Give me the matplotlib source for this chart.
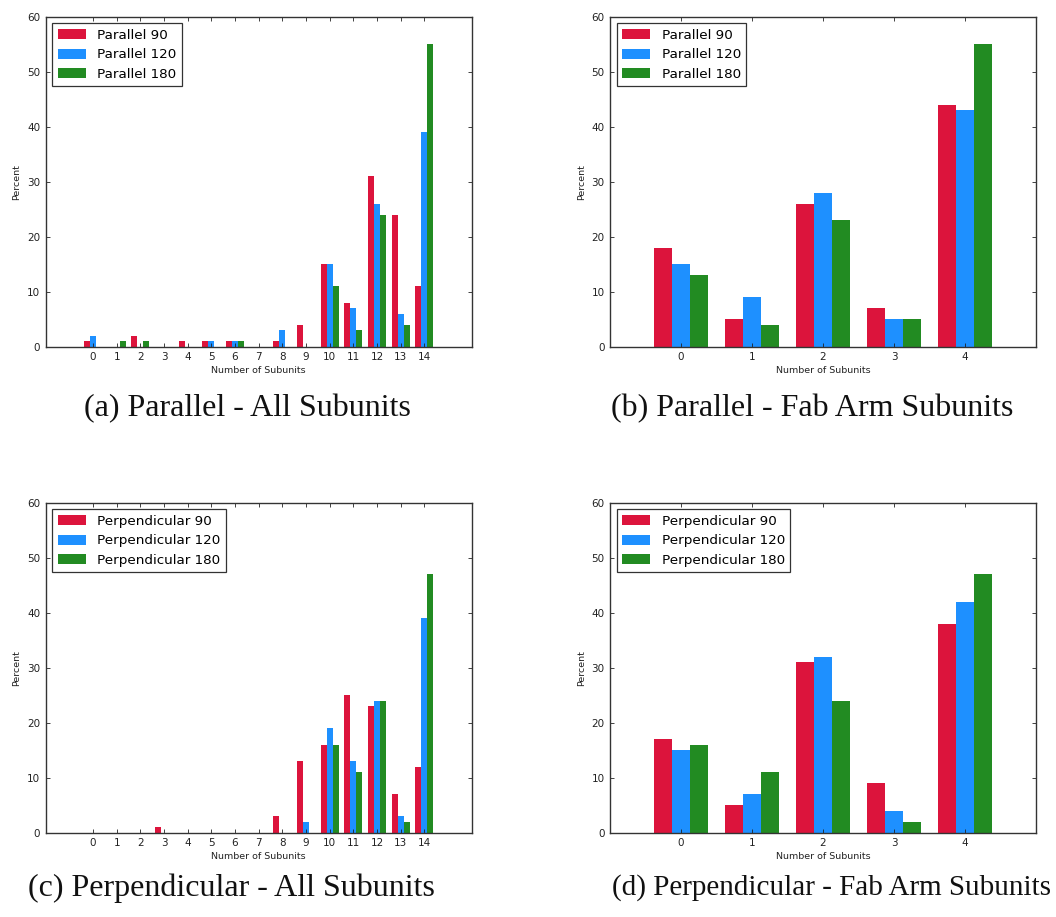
import numpy as np
import matplotlib
matplotlib.use("Agg")
import matplotlib.pyplot as plt

# colours used for the three angles
colors = ["crimson", "dodgerblue", "forestgreen"]

all_subunits = list(range(15))
fab_subunits = list(range(5))

par_all_90 = [1, 0, 2, 0, 1, 1, 1, 0, 1, 4, 15, 8, 31, 24, 11]
par_all_120 = [2, 0, 0, 0, 0, 1, 1, 0, 3, 0, 15, 7, 26, 6, 39]
par_all_180 = [0, 1, 1, 0, 0, 0, 1, 0, 0, 0, 11, 3, 24, 4, 55]

par_fab_90 = [18, 5, 26, 7, 44]
par_fab_120 = [15, 9, 28, 5, 43]
par_fab_180 = [13, 4, 23, 5, 55]

perp_all_90 = [0, 0, 0, 1, 0, 0, 0, 0, 3, 13, 16, 25, 23, 7, 12]
perp_all_120 = [0, 0, 0, 0, 0, 0, 0, 0, 0, 2, 19, 13, 24, 3, 39]
perp_all_180 = [0, 0, 0, 0, 0, 0, 0, 0, 0, 0, 16, 11, 24, 2, 47]

perp_fab_90 = [17, 5, 31, 9, 38]
perp_fab_120 = [15, 7, 32, 4, 42]
perp_fab_180 = [16, 11, 24, 2, 47]

par_labels = ["Parallel 90", "Parallel 120", "Parallel 180"]
perp_labels = ["Perpendicular 90", "Perpendicular 120", "Perpendicular 180"]

captions = ["(a) Parallel - All Subunits", "(b) Parallel - Fab Arm Subunits",
            "(c) Perpendicular - All Subunits", "(d) Perpendicular - Fab Arm Subunits"]


def draw_panel(ax, cats, series, labels):
    ind = np.array(cats)
    width = 0.25
    for i, vals in enumerate(series):
        ax.bar(ind + (i - 1) * width, vals, width, color=colors[i],
               linewidth=0, label=labels[i])
    # the wide charts get two empty units each side, the small ones one
    margin = 2 if len(ind) > 10 else 1
    ax.set_xlim(ind[0] - margin, ind[-1] + margin)
    ax.set_ylim(0, 60)
    ax.set_xticks(ind)
    ax.set_yticks(range(0, 61, 10))
    ax.tick_params(direction="in", top=True, right=True, length=3,
                   width=0.6, labelsize=7.5, colors="#222222", pad=4)
    for s in ax.spines.values():
        s.set_color("#333333")
        s.set_linewidth(1.0)
    ax.set_ylabel("Percent", fontsize=6.8, color="#222222", labelpad=4)
    ax.set_xlabel("Number of Subunits", fontsize=6.8, color="#222222", labelpad=3)
    leg = ax.legend(loc="upper left", fontsize=9.7, fancybox=False,
                    framealpha=1, borderpad=0.4, labelspacing=0.48,
                    handlelength=2.1, handleheight=0.75, handletextpad=0.84,
                    borderaxespad=0.5)
    leg.get_frame().set_edgecolor("#333333")
    leg.get_frame().set_linewidth(0.9)


fig = plt.figure(figsize=(10.56, 9.17), dpi=100)

W = 426 / 1056
H = 330 / 917
ax_a = fig.add_axes([45.7 / 1056, 1 - 346.7 / 917, W, H])
ax_b = fig.add_axes([610 / 1056, 1 - 346.7 / 917, W, H])
ax_c = fig.add_axes([45.7 / 1056, 1 - 832.7 / 917, W, H])
ax_d = fig.add_axes([610 / 1056, 1 - 832.7 / 917, W, H])

draw_panel(ax_a, all_subunits, [par_all_90, par_all_120, par_all_180], par_labels)
draw_panel(ax_b, fab_subunits, [par_fab_90, par_fab_120, par_fab_180], par_labels)
draw_panel(ax_c, all_subunits, [perp_all_90, perp_all_120, perp_all_180], perp_labels)
draw_panel(ax_d, fab_subunits, [perp_fab_90, perp_fab_120, perp_fab_180], perp_labels)

cap_font = dict(family="Liberation Serif", color="#111111",
                ha="center", va="center")
fig.text(247 / 1056, 1 - 409 / 917, captions[0], fontsize=23, **cap_font)
fig.text(812 / 1056, 1 - 409 / 917, captions[1], fontsize=23, **cap_font)
fig.text(231 / 1056, 1 - 888 / 917, captions[2], fontsize=23, **cap_font)
fig.text(832 / 1056, 1 - 888 / 917, captions[3], fontsize=21, **cap_font)

fig.savefig("out.png", dpi=100, facecolor="white")
